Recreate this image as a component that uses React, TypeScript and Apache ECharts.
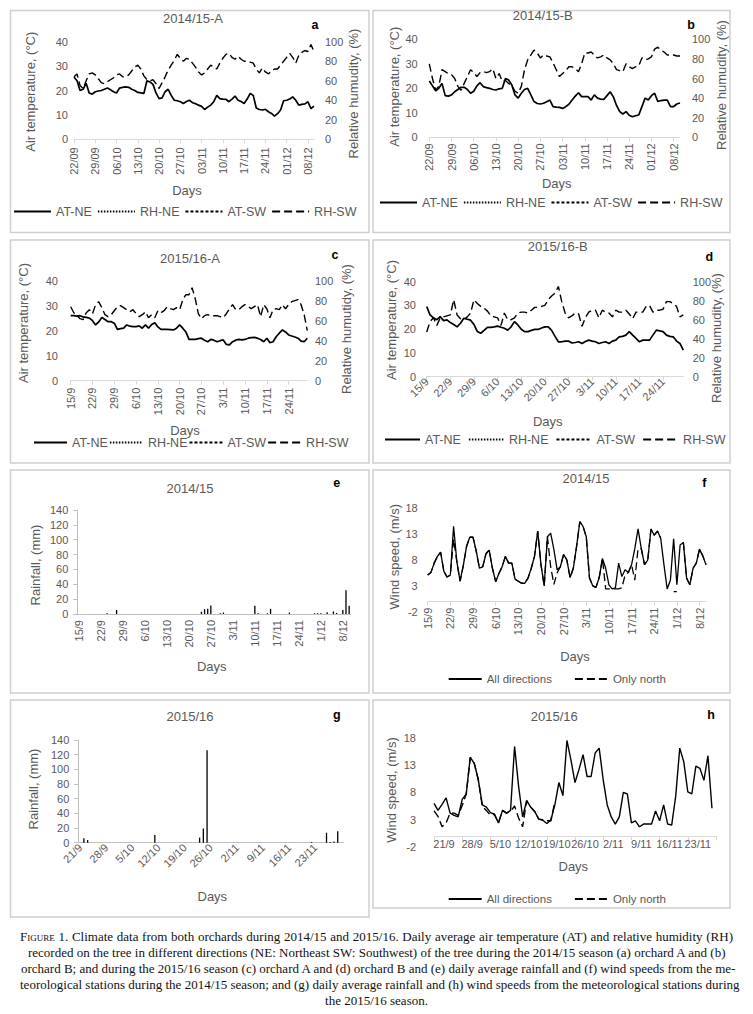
import React, { useEffect, useRef } from 'react';
import * as echarts from 'echarts';

const FONT = '"Liberation Sans", Arial, sans-serif';
const GREY = '#595959';
const AXIS_GREY = '#d9d9d9';

// ---------- categories (daily dates) ----------
function dayLabels(year: number, month: number, day: number, count: number, pad: boolean): string[] {
  const out: string[] = [];
  for (let i = 0; i < count; i++) {
    const d = new Date(year, month - 1, day + i);
    const dd = d.getDate();
    const mm = d.getMonth() + 1;
    out.push(pad ? `${String(dd).padStart(2, '0')}/${String(mm).padStart(2, '0')}` : `${dd}/${mm}`);
  }
  return out;
}
const catA = dayLabels(2014, 9, 22, 80, true);
const catB = dayLabels(2014, 9, 22, 80, true);
const catC = dayLabels(2015, 9, 15, 77, false);
const catD = dayLabels(2015, 9, 15, 77, false);
const catE = dayLabels(2014, 9, 15, 87, false);
const catF = dayLabels(2014, 9, 15, 87, false);
const catG = dayLabels(2015, 9, 21, 71, false);
const catH = dayLabels(2015, 9, 21, 71, false);

// ---------- tick values ----------
const windTicks = [-2, 3, 8, 13, 18];

// ---------- (a) 2014/15-A ----------
const aAtNE = [25.5,24,20,20.5,23,19,18.5,19.5,19.8,20, 20.5,21,20.3,19.5,19,21,21.3,21.5,21.3,20.5, 20,19.2,19,18.8,24,23.5,22.5,19,16.7,17, 19.5,20.5,18,16,15.8,15.4,14.7,15.5,16,15, 14.6,14,13.5,12.2,13.2,14,15.4,18,16.7,16.5, 16.4,15.4,16.5,17.7,16,15.5,14.7,16.5,18.8,18, 12.8,12.2,12,12.3,11.3,10.6,9.5,10.5,12,15.8, 16,16.5,17.4,16,14,14.3,14.5,15.4,12.6,13.6];
const aRhSW = [64,67,55,52,60,67,68,66,62,58, 57,59,61,63,66,67,64,64,66,70, 74,76,72,65,61,60,61,57,52,58, 64,71,76,81,87,83,80,83,82,78, 74,69,66,68,72,76,74,72,78,83, 87,88,84,82,85,82,80,80,79,78, 72,68,73,69,67,70,72,72,76,80, 84,88,84,78,86,89,91,90,97,90];

// ---------- (b) 2014/15-B ----------
const bAtNE = [23,21,19,20,22,17,16.8,17.3,18.6,19.5, 20.4,20.4,19.5,18,18.8,21,22.3,20.7,20.3,20, 19.5,19.3,19.8,20,24,23.4,21.4,17.3,16,18, 19.5,20,17.3,14.6,13.8,13.6,13.9,14.5,15.2,12.5, 12.3,12.2,11.8,12.5,13.5,15.2,16.8,18.2,16.6,16.6, 16.6,15.2,17.3,16,15.6,15.5,17,18.6,16.5,13, 10.5,9.5,10.5,9,8.4,8.8,9.1,12.5,16,15.2, 17,18,14.6,15,15.2,15.2,12.5,12.5,13.6,14];
const bRhSW = [75,60,48,52,69,67,65,64,60,52, 48,55,62,69,66,62,66,67,66,67, 70,60,65,57,58,55,53,47,45,52, 69,79,84,89,86,81,84,83,82,76, 69,62,65,68,72,72,70,67,75,86, 86,87,84,81,82,84,81,79,75,69, 68,67,75,72,70,72,73,81,79,80, 82,90,92,89,87,84,84,84,83,83];

// ---------- (c) 2015/16-A ----------
const cAtNE = [26,26,25.8,26,25.5,25.3,25,24,22.3,23.5, 25.3,24.5,23.6,23.6,23,20.5,20.8,21,22.3,21.8, 21.6,21.6,21.9,21,22.3,21,22.5,23.2,21.5,20.5, 20.5,20.5,20.4,20.3,21,22.3,21,19.5,16.5,16.5, 16.5,16.8,17,16.2,15.6,16.5,16.2,15.6,16,16.3, 14.5,14.3,15.6,16.2,16.5,16.3,16.5,17,17.2,17.3, 17,16.5,15.6,17,15.2,15.6,17.6,19,20.3,19.5, 18.3,17.9,17.5,17,15.8,15.6,17];
const cRhSW = [74,68,65,62,61,68,71,67,76,79, 73,66,64,66,70,74,75,73,71,69, 71,67,64,66,69,63,66,63,70,68, 70,74,72,71,73,71,81,86,86,93, 82,67,62,65,66,65,65,65,64,63, 67,72,76,71,71,74,76,74,72,74, 76,64,76,72,63,71,72,71,76,72, 76,79,80,81,76,66,50];

// ---------- (d) 2015/16-B ----------
const dAtNE = [29.5,26,24.8,24,25.3,23.6,23.9,22.8,22,21, 22.5,24.6,24.2,23.8,22,19,18.3,19.5,20.8,20.8, 21,21.3,20.8,20.4,19.6,21,23.2,21.8,20,19, 19,19.5,19.9,19.9,20.5,21,21,19.5,17,14.7, 14.7,15,15,14.2,14.4,14.7,14,14.8,15.4,15, 14.7,14,14.4,14.7,14,15,15.4,16.8,17,17.5, 19,17.5,16.1,14.7,15.4,15.4,15.4,17.5,19.6,19.3, 19,17.5,17,16.8,15,14,11.2];
const dRhSW = [47,58,62,54,62,63,64,65,81,65, 61,60,63,67,81,77,74,72,69,64, 63,62,54,67,60,60,62,67,68,68, 67,70,73,73,74,75,81,85,88,95, 79,67,62,64,67,66,53,62,68,70, 70,62,70,68,67,63,70,68,68,70, 66,61,68,68,68,74,75,68,70,70, 71,79,79,77,74,63,65];

// ---------- (e) rainfall 2014/15 ----------
const rainE = [0,0,0,0,0,0,0,0,0,1, 0,0,5.5,0,0,0,0,0,0,0, 0,0,0,0,0,0,0,0,0,0, 0,0,0,0,0,0,0,0,0,3, 6.5,7,11.5,0,0,1,2,0,0,0, 0,0,0,0,0,0,11,1,0,0, 1,7,0,0,0,0,0,2,0,0, 0,0,0,0,0,1,1,1,0,2.5, 0,3.5,1.5,0,5.5,32,11];

// ---------- (f) wind 2014/15 ----------
const windAllF = [5.1,5.6,7.4,8.7,9.5,5.8,4.7,5.1,14.5,7.7, 3.9,6.9,10.6,12.4,12.4,9.7,6.4,6.7,9.2,9.9, 6.4,3.8,5.4,6.7,8.7,7.4,7.4,4.3,3.9,3.5, 3.5,4.5,6.4,8.7,13.6,7.1,3.0,12.5,13.2,10, 6.1,6.7,9.1,8,4.6,6.4,10.6,15.4,14.5,12.5, 4.5,3.0,2.7,4.6,8.3,6.4,3.2,2.4,2.6,7.4, 4.8,6.1,5.6,7.1,10.2,14,10.2,7.1,8,14, 12.8,13.6,12.2,7.1,2.4,4.1,12.1,3.2,10.9,11.4, 4.5,3.2,6.4,7.4,10.1,8.8,7.1];
const windNorthF = [5.1,5.6,7.4,8.7,9.5,5.8,4.7,5.1,12.0,7.7, 3.9,6.9,10.6,12.4,12.4,9.7,6.4,6.7,9.2,9.9, 6.4,3.8,5.4,6.7,8.7,7.4,7.4,4.3,3.9,3.5, 3.5,4.5,6.4,8.7,13.6,7.1,3.0,12.5,6.7,3.3, 5.5,6.7,9.1,8,4.6,6.4,10.6,15.4,14.5,12.5, 4.5,3.0,2.7,4.6,8.3,2.4,2.4,2.4,2.4,2.4, 2.6,5.1,5.6,7.1,4.1,10.2,10.2,7.1,8,14, 12.8,13.6,12.2,null,null,null,1.9,1.9,null,11.4, 4.5,3.2,6.4,7.4,10.1,8.8,7.1];

// ---------- (g) rainfall 2015/16 ----------
const rainG = [0,6,3.6,0,0,0,0,0,0,0, 0,0,0,0,0,0,0,0,0,0, 10.5,0,0,0,0,0,0,0,0,0, 0,0,7,19.5,126,0,0,0,0,0, 0,0,0,0,0,0,0,0,0,0, 0,0,0,0,0,0,0,0,0,0, 0,0,1,0,0,0,13.6,1,1.5,15.5, 0];

// ---------- (h) wind 2015/16 ----------
const windAllH = [6.0,4.7,5.8,7.0,4.2,3.8,3.5,6.7,7.7,14.4, 13.3,10.3,5.7,5.3,4.3,4.0,2.4,4.7,4.2,4.7, 16.4,9.1,3.5,6.5,5.3,4.5,3.1,2.9,2.3,2.9, 5.7,9.8,7.4,17.5,13.9,9.8,12.2,14.9,10.9,10.9, 15.2,16.1,10.3,5.7,3.5,2.2,3.5,8.0,7.7,2.4, 2.8,1.7,2.2,2.2,2.2,4.6,2.8,5.7,2.2,2.0, 7.3,16.1,13.6,8.1,7.7,12.8,12.4,10.2,14.7,5.1];
const windNorthH = [4.6,3.6,1.7,2.4,4.2,4.2,3.8,5.6,7.7,14.4, 13.3,10.3,5.4,4.7,3.8,4.0,2.4,4.7,4.2,4.5, 5.5,3.3,1.7,6.5,5.3,4.5,3.1,3.0,2.8,2.8, 6.3,null,null,null,null,null,null,null,null,null, null,null,null,null,null,null,null,null,null,null, null,null,null,null,null,null,null,null,null,null, null,null,null,null,null,null,null,null,null,null];

const DOTTED = [1.5, 1.5];
const SHORT_DASH = [3, 2];
const LONG_DASH = [8, 4];

function catAxis(gridIndex: number, data: string[], o: any) {
  return {
    type: 'category',
    gridIndex,
    data,
    boundaryGap: !!o.boundaryGap,
    axisLine: { show: true, onZero: true, lineStyle: { color: o.lineColor || AXIS_GREY, width: 1 } },
    axisTick: o.ticks
      ? { show: true, interval: 6, length: 4, lineStyle: { color: AXIS_GREY } }
      : { show: false },
    axisLabel: {
      interval: o.labelInterval !== undefined ? o.labelInterval : 6,
      rotate: o.rotate || 0,
      margin: o.margin,
      color: GREY,
      fontSize: o.fontSize || 11,
      fontFamily: FONT,
      padding: o.padding || 0,
    },
    splitLine: { show: false },
  };
}

function valAxis(gridIndex: number, o: any) {
  const ax: any = {
    type: 'value',
    gridIndex,
    position: o.position || 'left',
    min: o.min,
    max: o.max,
    axisLine: { show: !!o.line, lineStyle: { color: '#bfbfbf' } },
    axisTick: { show: !!o.line, length: 4, lineStyle: { color: '#bfbfbf' } },
    splitLine: { show: false },
    axisLabel: { color: GREY, fontSize: 11, fontFamily: FONT, margin: o.margin },
  };
  if (o.interval !== undefined) ax.interval = o.interval;
  if (o.custom) {
    ax.axisLabel.customValues = o.custom;
  }
  return ax;
}

function lineSeries(name: string, xi: number, yi: number, data: any[], type: any, width: number) {
  return {
    type: 'line',
    name,
    xAxisIndex: xi,
    yAxisIndex: yi,
    data,
    symbol: 'none',
    showSymbol: false,
    silent: true,
    connectNulls: false,
    lineStyle: { color: '#000', width, type },
    itemStyle: { color: '#000' },
  };
}

function legendCfg(left: number, top: number, data: string[], itemWidth: number, itemGap: number, fontSize: number) {
  return {
    left,
    top,
    orient: 'horizontal',
    data,
    itemWidth,
    itemHeight: 10,
    itemGap,
    padding: 0,
    selectedMode: false,
    itemStyle: { opacity: 0, color: 'rgba(0,0,0,0)', borderColor: 'rgba(0,0,0,0)', borderWidth: 0 },
    textStyle: { color: GREY, fontSize, fontFamily: FONT },
  };
}

function buildOption() {
  const grids = [
    { left: 74, top: 41.7, width: 240, height: 97.6 },
    { left: 429.3, top: 39.3, width: 250.7, height: 98 },
    { left: 70.7, top: 280.7, width: 236.6, height: 100 },
    { left: 426.7, top: 281.7, width: 256.6, height: 95 },
    { left: 77.3, top: 510, width: 273.4, height: 104 },
    { left: 427.7, top: 508.3, width: 278.3, height: 103.4 },
    { left: 78.3, top: 740, width: 265, height: 102.7 },
    { left: 434, top: 737.7, width: 282, height: 109.3 },
  ].map((g) => ({ ...g, containLabel: false, outerBoundsMode: 'none' }));

  const hideLast = (i: number) => i % 7 === 0 && i < 70;

  const xAxis = [
    catAxis(0, catA, { ticks: true, rotate: 90, margin: 8 }),
    catAxis(1, catB, { ticks: true, rotate: 90, margin: 6 }),
    catAxis(2, catC, { ticks: true, rotate: 90, margin: 7 }),
    catAxis(3, catD, { ticks: true, rotate: 45, margin: 3 }),
    catAxis(4, catE, { boundaryGap: true, ticks: false, rotate: 90, margin: 6, lineColor: '#bfbfbf' }),
    catAxis(5, catF, { ticks: true, rotate: 90, margin: -4 }),
    catAxis(6, catG, { boundaryGap: true, ticks: false, rotate: 45, margin: 3, labelInterval: hideLast, lineColor: '#bfbfbf' }),
    catAxis(7, catH, { ticks: true, rotate: 0, margin: -9, fontSize: 11, padding: [0, 0, 0, 20], labelInterval: hideLast }),
  ];

  const yAxis = [
    valAxis(0, { min: 0, max: 40, interval: 10, margin: 6 }),
    valAxis(0, { min: 0, max: 100, interval: 20, margin: 11, position: 'right' }),
    valAxis(1, { min: 0, max: 40, interval: 10, margin: 11.6 }),
    valAxis(1, { min: 0, max: 100, interval: 20, margin: 12, position: 'right' }),
    valAxis(2, { min: 0, max: 40, interval: 10, margin: 12.7 }),
    valAxis(2, { min: 0, max: 100, interval: 20, margin: 7.7, position: 'right' }),
    valAxis(3, { min: 0, max: 40, interval: 10, margin: 10.7 }),
    valAxis(3, { min: 0, max: 100, interval: 20, margin: 9.4, position: 'right' }),
    valAxis(4, { min: 0, max: 140, interval: 20, margin: 9, line: true }),
    valAxis(5, { min: -2, max: 18, custom: windTicks, margin: 10 }),
    valAxis(6, { min: 0, max: 140, interval: 20, margin: 9, line: true }),
    valAxis(7, { min: -2, max: 18, custom: windTicks, margin: 18 }),
  ];

  const climate = [
    [aAtNE, aRhSW],
    [bAtNE, bRhSW],
    [cAtNE, cRhSW],
    [dAtNE, dRhSW],
  ];
  const series: any[] = [];
  climate.forEach(([at, rh], i) => {
    series.push(lineSeries('AT-NE', i, i * 2, at, 'solid', 1.7));
    series.push(lineSeries('RH-NE', i, i * 2 + 1, [], DOTTED, 1.3));
    series.push(lineSeries('AT-SW', i, i * 2, [], SHORT_DASH, 1.3));
    series.push(lineSeries('RH-SW', i, i * 2 + 1, rh, LONG_DASH, 1.4));
  });
  series.push({ type: 'bar', xAxisIndex: 4, yAxisIndex: 8, data: rainE, barWidth: 1.3, silent: true, itemStyle: { color: '#000' } });
  series.push(lineSeries('All directions', 5, 9, windAllF, 'solid', 1.3));
  series.push(lineSeries('Only north', 5, 9, windNorthF, LONG_DASH, 1.3));
  series.push({ type: 'bar', xAxisIndex: 6, yAxisIndex: 10, data: rainG, barWidth: 1.3, silent: true, itemStyle: { color: '#000' } });
  series.push(lineSeries('All directions', 7, 11, windAllH, 'solid', 1.4));
  series.push(lineSeries('Only north', 7, 11, windNorthH, LONG_DASH, 1.4));

  const climItems = ['AT-NE', 'RH-NE', 'AT-SW', 'RH-SW'];
  const windItems = ['All directions', 'Only north'];
  const legend = [
    legendCfg(13, 205, climItems, 37, 5, 12.5),
    legendCfg(379, 196, climItems, 37, 5, 12.5),
    legendCfg(33, 436, climItems, 33, 1, 12.5),
    legendCfg(384, 433, climItems, 35, 7, 12.5),
    legendCfg(447.7, 673, windItems, 33, 22, 11.5),
    legendCfg(447.7, 893, windItems, 33, 22, 11.5),
  ];

  const boxes = [
    [10.5, 10.5, 358.5, 222],
    [373, 10.5, 357, 222],
    [10.5, 240, 358.5, 223],
    [373, 240, 357, 223],
    [10.5, 470, 358.5, 223],
    [373, 470, 357, 223],
    [10.5, 700, 358.5, 217],
    [373, 700, 357, 208],
  ];
  const titles: [string, number, number][] = [
    ['2014/15-A', 193, 18], ['2014/15-B', 542.7, 15], ['2015/16-A', 190, 258.3], ['2015/16-B', 557.7, 246.7],
    ['2014/15', 190, 488.3], ['2014/15', 586, 478.3], ['2015/16', 190, 716.7], ['2015/16', 554.3, 716.7],
  ];
  const letters: [string, number, number][] = [
    ['a', 315, 25], ['b', 691, 25], ['c', 335, 255], ['d', 709.3, 256.7],
    ['e', 336.7, 483.3], ['f', 704.3, 483.3], ['g', 336.7, 715], ['h', 711, 715],
  ];
  const axisTitles: [string, number, number][] = [
    ['Air temperature, (°C)', 30, 91.7], ['Relative humudity, (%)', 353, 93.5],
    ['Air temperature, (°C)', 394, 86.7], ['Relative humudity, (%)', 721, 85],
    ['Air temperature, (°C)', 23.3, 323], ['Relative humutidy, (%)', 346.7, 329],
    ['Air temperature, (°C)', 391, 320], ['Relative humudity, (%)', 716, 338],
    ['Rainfall, (mm)', 35, 565], ['Wind speed, (m/s)', 394.3, 556.7],
    ['Rainfall, (mm)', 33.3, 789], ['Wind speed, (m/s)', 391, 790],
  ];
  const days: [number, number][] = [
    [187, 190], [556.7, 183.3], [185, 430], [547.7, 421.7],
    [211.7, 666.7], [575, 656.7], [212.3, 896.7], [573.3, 866.7],
  ];

  const graphic: any[] = [];
  boxes.forEach(([x, y, w, h]) => {
    graphic.push({ type: 'rect', silent: true, z: -10, shape: { x, y, width: w, height: h }, style: { fill: 'none', stroke: '#cfcfcf', lineWidth: 1.5 } });
  });
  titles.forEach(([t, x, y]) => {
    graphic.push({ type: 'text', silent: true, x, y, style: { text: t, fill: GREY, fontSize: 13, fontFamily: FONT, align: 'center', verticalAlign: 'middle' } });
  });
  letters.forEach(([t, x, y]) => {
    graphic.push({ type: 'text', silent: true, x, y, style: { text: t, fill: '#000', fontSize: 12.5, fontWeight: 'bold', fontFamily: FONT, align: 'center', verticalAlign: 'middle' } });
  });
  axisTitles.forEach(([t, x, y]) => {
    graphic.push({ type: 'text', silent: true, x, y, rotation: Math.PI / 2, style: { text: t, fill: GREY, fontSize: 13, fontFamily: FONT, align: 'center', verticalAlign: 'middle' } });
  });
  days.forEach(([x, y]) => {
    graphic.push({ type: 'text', silent: true, x, y, style: { text: 'Days', fill: GREY, fontSize: 13, fontFamily: FONT, align: 'center', verticalAlign: 'middle' } });
  });

  return {
    animation: false,
    backgroundColor: '#ffffff',
    grid: grids,
    xAxis,
    yAxis,
    legend,
    series,
    graphic,
  };
}

const CAPTION_LINES = [
  { left: 20, width: 713, text: '1. Climate data from both orchards during 2014/15 and 2015/16. Daily average air temperature (AT) and relative humidity (RH)', first: true },
  { left: 28, width: 697, text: 'recorded on the tree in different directions (NE: Northeast SW: Southwest) of the tree during the 2014/15 season (a) orchard A and (b)' },
  { left: 21, width: 711, text: 'orchard B; and during the 2015/16 season (c) orchard A and (d) orchard B and (e) daily average rainfall and (f) wind speeds from the me-' },
  { left: 20, width: 713, text: 'teorological stations during the 2014/15 season; and (g) daily average rainfall and (h) wind speeds from the meteorological stations during' },
];

export default function App() {
  const ref = useRef<HTMLDivElement>(null);
  useEffect(() => {
    if (!ref.current) return;
    const chart = echarts.init(ref.current, undefined, { renderer: 'svg' });
    chart.setOption(buildOption() as any);
    return () => chart.dispose();
  }, []);

  const capStyle: any = {
    position: 'absolute',
    fontFamily: '"Liberation Serif", "Times New Roman", serif',
    fontSize: 13,
    lineHeight: '16px',
    color: '#111',
    whiteSpace: 'nowrap',
  };

  return (
    <div style={{ position: 'absolute', left: 0, top: 0, width: 753, height: 1014, background: '#fff', overflow: 'hidden' }}>
      <div ref={ref} style={{ position: 'absolute', left: 0, top: 0, width: 753, height: 920 }} />
      {CAPTION_LINES.map((l, i) => (
        <div
          key={i}
          style={{ ...capStyle, left: l.left, width: l.width, top: 929 + i * 16, textAlign: 'justify', textAlignLast: 'justify' }}
        >
          {l.first ? <span style={{ fontVariant: 'small-caps' }}>Figure </span> : null}
          {l.text}
        </div>
      ))}
      <div style={{ ...capStyle, left: 0, width: 753, top: 929 + 4 * 16, textAlign: 'center' }}>the 2015/16 season.</div>
    </div>
  );
}
